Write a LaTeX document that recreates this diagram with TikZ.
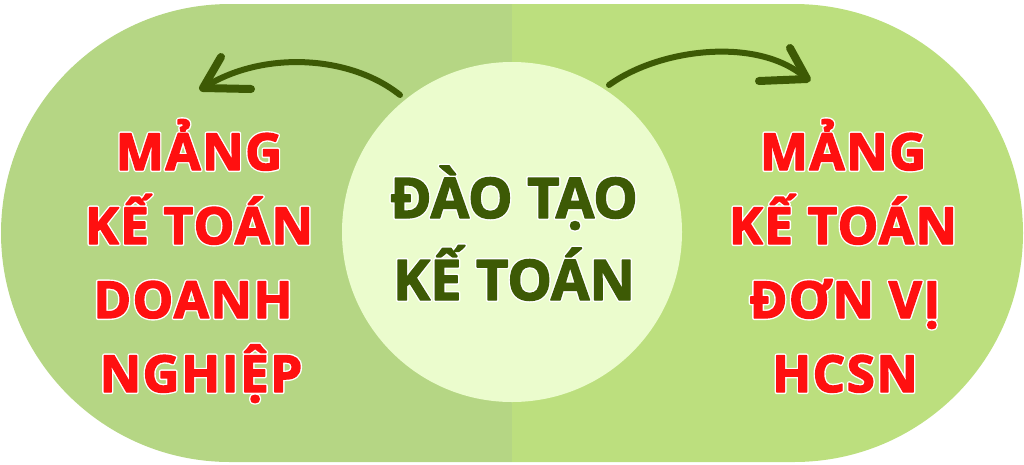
\documentclass[tikz,border=0pt]{standalone}
\usepackage{fontspec}
\setmainfont{Open Sans}
\definecolor{leftg}{HTML}{B5D684}
\definecolor{rightg}{HTML}{BCDF7E}
\definecolor{circ}{HTML}{EBFCCD}
\definecolor{redt}{HTML}{FF1010}
\definecolor{dgreen}{HTML}{3D5A05}
% #1 = stroke colour as "r g b", #2 = text
\newcommand\whiteedge[2]{\rlap{\special{pdf:literal direct 1 j 4.2 w 1 1 1 RG 1 Tr}#2}\special{pdf:literal direct 1 j 1.4 w #1 RG 2 Tr}#2\special{pdf:literal direct 0 Tr}}
\newcommand\redtext[1]{\whiteedge{1 0.063 0.063}{#1}}
\newcommand\greentext[1]{\whiteedge{0.239 0.353 0.020}{#1}}
\tikzset{
  redline/.style={anchor=base, inner sep=0pt, text=redt, font=\fontsize{51}{51}\selectfont\bfseries\addfontfeature{LetterSpace=3}},
  greenline/.style={anchor=base, inner sep=0pt, text=dgreen, font=\fontsize{56}{56}\selectfont\bfseries},
  curvearrow/.style={draw=dgreen, line width=6pt, line cap=round, line join=round},
  arrowarm/.style={draw=dgreen, line width=8pt, line cap=round, line join=round},
}
\begin{document}
\begin{tikzpicture}[x=1pt,y=-1pt]
\useasboundingbox (0,0) rectangle (1024,464);
\begin{scope}
  \clip[rounded corners=229pt] (1,4) rectangle (1023,462);
  \fill[leftg] (0,0) rectangle (512,464);
  \fill[rightg] (512,0) rectangle (1024,464);
\end{scope}
\node[circle, fill=circ, minimum size=340pt, inner sep=0pt] (hub) at (512,232) {};
% center text
\node[greenline] (c1) at (514,218) {\greentext{ĐÀO TẠO}};
\node[greenline] (c2) at (514,300) {\greentext{KẾ TOÁN}};
% left text
\node[redline] (l1) at (199,170) {\redtext{MẢNG}};
\node[redline] (l2) at (199,244) {\redtext{KẾ TOÁN}};
\node[redline] (l3) at (193,318) {\redtext{DOANH}};
\node[redline] (l4) at (201,392) {\redtext{NGHIỆP}};
% right text
\node[redline] (r1) at (843,170) {\redtext{MẢNG}};
\node[redline] (r2) at (843,244) {\redtext{KẾ TOÁN}};
\node[redline] (r3) at (845,318) {\redtext{ĐƠN VỊ}};
\node[redline] (r4) at (845,392) {\redtext{HCSN}};
% arrows
\coordinate (la) at (400,95);
\coordinate (lt) at (203,88);
\coordinate (lu) at (221,57);
\coordinate (ll) at (251,89);
\coordinate (ra) at (609,85);
\coordinate (rt) at (807,79);
\coordinate (ru) at (790,48);
\coordinate (rl) at (759,81);
\draw[curvearrow] (la) .. controls (350,55) and (262,50) .. (lt);
\draw[arrowarm] (lu) -- (lt) -- (ll);
\draw[curvearrow] (ra) .. controls (660,48) and (760,36) .. (rt);
\draw[arrowarm] (ru) -- (rt) -- (rl);
\end{tikzpicture}
\end{document}
